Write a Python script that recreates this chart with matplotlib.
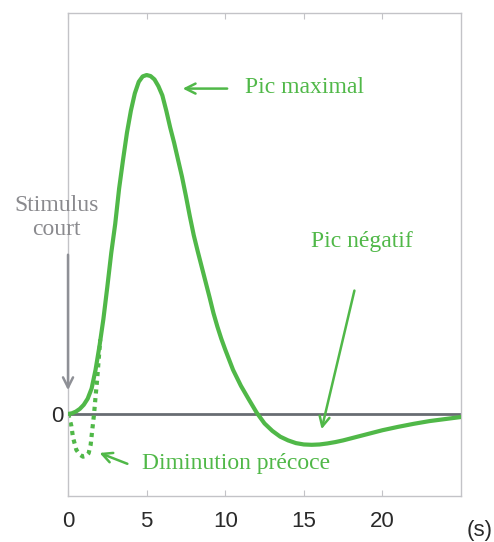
"""Hemodynamic response sketch: BOLD signal after a short stimulus."""
import matplotlib

matplotlib.use("Agg")
import matplotlib.pyplot as plt  # noqa: E402

GREEN = "#50b848"
GREY_TXT = "#8a8a8e"

# main response curve (time in s, normalised amplitude)
resp_t = [0, 0.25, 0.5, 0.75, 1.0, 1.25, 1.5, 1.75, 2.0, 2.25, 2.5, 2.75, 3.0, 3.25, 3.5, 3.75,
          4.0, 4.25, 4.5, 4.75, 5.0, 5.25, 5.5, 5.75, 6.0, 6.25, 6.5, 6.75, 7.0, 7.25, 7.5, 7.75,
          8.0, 8.25, 8.5, 8.75, 9.0, 9.25, 9.5, 9.75, 10.0, 10.5, 11.0, 11.5, 12.0, 12.5, 13.0,
          13.5, 14.0, 14.5, 15.0, 15.5, 16.0, 16.5, 17.0, 17.5, 18.0, 19.0, 20.0, 21.0, 22.0,
          23.0, 24.0, 25.0]
resp_v = [0, 0.002, 0.007, 0.015, 0.027, 0.045, 0.075, 0.13, 0.2, 0.28, 0.375, 0.475, 0.56, 0.665,
          0.75, 0.83, 0.895, 0.946, 0.98, 0.996, 1.0, 0.997, 0.987, 0.967, 0.94, 0.895, 0.845,
          0.8, 0.75, 0.7, 0.643, 0.583, 0.527, 0.48, 0.435, 0.39, 0.345, 0.298, 0.258, 0.222,
          0.19, 0.13, 0.083, 0.043, 0.004, -0.028, -0.05, -0.067, -0.078, -0.086, -0.09, -0.091,
          -0.09, -0.087, -0.083, -0.078, -0.072, -0.06, -0.048, -0.038, -0.029, -0.021, -0.015,
          -0.009]

# early dip (dotted)
dip_t = [0, 0.1, 0.21, 0.32, 0.53, 0.75, 0.95, 1.15, 1.31, 1.44, 1.53, 1.65, 1.75, 1.85, 1.95, 2.05]
dip_v = [0, -0.015, -0.035, -0.07, -0.106, -0.12, -0.126, -0.124, -0.116, -0.091, -0.052, -0.003,
         0.05, 0.1, 0.16, 0.22]

xticks = [0, 5, 10, 15, 20]

fig = plt.figure(figsize=(4.94, 5.42), dpi=100)
ax = fig.add_axes([0.1377, 0.0849, 0.7955, 0.8911])
ax.set_xlim(0, 25)
ax.set_ylim(-0.242, 1.183)

ax.axhline(0, color="#686c72", lw=2, zorder=1)
ax.plot(resp_t, resp_v, color=GREEN, lw=3, solid_capstyle="round", solid_joinstyle="round", zorder=3)
ax.plot(dip_t, dip_v, color=GREEN, lw=3, ls=(0, (1, 1.1)), zorder=2)

for s in ax.spines.values():
    s.set_color("#c3c3c7")
    s.set_linewidth(1)

ax.set_xticks(xticks)
ax.set_xticklabels([str(t) for t in xticks], family="Liberation Sans", fontsize=16, color="#2a2a2a")
ax.set_yticks([0])
ax.set_yticklabels(["0"], family="Liberation Sans", fontsize=16, color="#2a2a2a")
ax.tick_params(axis="x", direction="in", length=4, color="#c3c3c7", top=True, pad=11)
ax.tick_params(axis="y", length=0, pad=3)
fig.text(0.998, 0.022, "(s)", family="Liberation Sans", fontsize=16, color="#2a2a2a",
         ha="right", va="center")

serif = dict(family="Liberation Serif", fontsize=17, color=GREEN)
arrow = dict(arrowstyle="->", color=GREEN, lw=1.8, mutation_scale=18)

ax.text(11.26, 0.962, "Pic maximal", ha="left", va="center", **serif)
ax.annotate("", xy=(7.12, 0.96), xytext=(10.3, 0.96), arrowprops=arrow)

ax.text(18.67, 0.51, "Pic négatif", ha="center", va="center", **serif)
ax.annotate("", xy=(16.09, -0.053), xytext=(18.26, 0.372), arrowprops=arrow)

ax.text(4.71, -0.145, "Diminution précoce", ha="left", va="center", **serif)
ax.annotate("", xy=(1.84, -0.112), xytext=(3.94, -0.150), arrowprops=arrow)

ax.text(-0.76, 0.58, "Stimulus\ncourt", ha="center", va="center", family="Liberation Serif",
        fontsize=17, color=GREY_TXT, linespacing=1.2, clip_on=False)
ax.annotate("", xy=(0, 0.062), xytext=(0, 0.478),
            arrowprops=dict(arrowstyle="->", color="#8e9096", lw=1.8, mutation_scale=18),
            annotation_clip=False)

fig.savefig("out.png", dpi=100, facecolor="white")
